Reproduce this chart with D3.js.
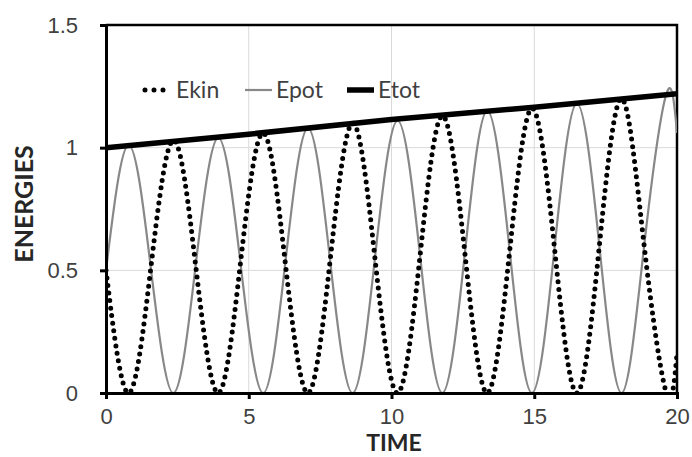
<!DOCTYPE html>
<html>
<head>
  <title>Energies vs Time</title>
  <script src="https://d3js.org/d3.v7.min.js"></script>
  <style>
    body { margin: 0; background: #fff; }
    svg { font-family: Lato, "Liberation Sans", sans-serif; }
    .grid line { stroke: #d9d9d9; stroke-width: 1; }
    .axis path, .axis line { stroke: #000; stroke-width: 3; }
    .axis text { fill: #404040; font-size: 22px; }
    .title { fill: #262626; font-weight: bold; }
  </style>
</head>
<body>
  <svg width="692" height="457"></svg>

  <script>
    // sample times (roughly every quarter swing) and energies
    const time = [0, 0.79, 1.57, 2.36, 3.14, 3.93, 4.71, 5.50, 6.28, 7.07, 7.85, 8.64, 9.42,
      10.21, 11.00, 11.78, 12.57, 13.35, 14.14, 14.92, 15.71, 16.49, 17.28, 18.06, 18.85, 19.63, 20];
    const ekin = [0.50, 0, 0.51, 1.03, 0.52, 0, 0.53, 1.06, 0.53, 0, 0.54, 1.10, 0.55,
      0, 0.56, 1.13, 0.57, 0, 0.58, 1.16, 0.59, 0, 0.60, 1.20, 0.60, 0, 0.16];
    const epot = [0.50, 1.01, 0.51, 0, 0.52, 1.04, 0.53, 0, 0.53, 1.08, 0.54, 0, 0.55,
      1.11, 0.56, 0, 0.57, 1.15, 0.58, 0, 0.59, 1.18, 0.60, 0, 0.60, 1.22, 1.06];
    const etotTime = [0, 5, 10, 15, 20];
    const etot = [1.00, 1.055, 1.115, 1.165, 1.22];

    const xTicks = [0, 5, 10, 15, 20];
    const yTicks = [0, 0.5, 1, 1.5];

    const svg = d3.select("svg");
    const margin = { top: 25, right: 15, bottom: 64, left: 106 };
    const width = 692, height = 457;

    const x = d3.scaleLinear().domain([0, 20]).range([margin.left, width - margin.right]);
    const y = d3.scaleLinear().domain([0, 1.5]).range([height - margin.bottom, margin.top]);

    svg.append("defs").append("clipPath").attr("id", "plot")
      .append("rect")
      .attr("x", x(0)).attr("y", y(1.5))
      .attr("width", x(20) - x(0)).attr("height", y(0) - y(1.5));

    // grid
    const grid = svg.append("g").attr("class", "grid");
    grid.selectAll(".gx").data(xTicks.slice(1, -1)).join("line")
      .attr("x1", d => x(d)).attr("x2", d => x(d))
      .attr("y1", y(0)).attr("y2", y(1.5));
    grid.selectAll(".gy").data(yTicks.slice(1, -1)).join("line")
      .attr("x1", x(0)).attr("x2", x(20))
      .attr("y1", d => y(d)).attr("y2", d => y(d));

    // plot border on top and right
    svg.append("path")
      .attr("d", `M${x(0)},${y(1.5)}H${x(20)}V${y(0)}`)
      .attr("fill", "none").attr("stroke", "#000").attr("stroke-width", 2.5);

    const line = d3.line().x(d => x(d[0])).y(d => y(d[1]));
    const smooth = d3.line().x(d => x(d[0])).y(d => y(d[1])).curve(d3.curveNatural);

    const plot = svg.append("g").attr("clip-path", "url(#plot)");

    plot.append("path")
      .datum(time.map((t, i) => [t, epot[i]]))
      .attr("d", smooth)
      .attr("fill", "none").attr("stroke", "#888").attr("stroke-width", 2.2);

    plot.append("path")
      .datum(time.map((t, i) => [t, ekin[i]]))
      .attr("d", smooth)
      .attr("fill", "none").attr("stroke", "#000").attr("stroke-width", 5)
      .attr("stroke-linecap", "round").attr("stroke-dasharray", "0 7.6");

    plot.append("path")
      .datum(etotTime.map((t, i) => [t, etot[i]]))
      .attr("d", line)
      .attr("fill", "none").attr("stroke", "#000").attr("stroke-width", 5.5);

    // axes
    svg.append("g")
      .attr("class", "axis")
      .attr("transform", `translate(0,${y(0)})`)
      .call(d3.axisBottom(x).tickValues(xTicks).tickSizeOuter(0).tickSize(6).tickPadding(9));

    svg.append("g")
      .attr("class", "axis")
      .attr("transform", `translate(${x(0)},0)`)
      .call(d3.axisLeft(y).tickValues(yTicks).tickFormat(d3.format("")).tickSizeOuter(0).tickSize(6).tickPadding(22));

    svg.append("text")
      .attr("class", "title")
      .attr("x", 394).attr("y", 451)
      .attr("text-anchor", "middle")
      .attr("font-size", 23)
      .text("TIME");

    svg.append("text")
      .attr("class", "title")
      .attr("transform", "translate(33,204) rotate(-90)")
      .attr("text-anchor", "middle")
      .attr("font-size", 25)
      .text("ENERGIES");

    // legend
    const legend = svg.append("g").attr("transform", "translate(0,90)");
    const items = [
      { name: "Ekin", x: 145, stroke: "#000", w: 5, dash: "0 9" },
      { name: "Epot", x: 245, stroke: "#888", w: 2.2, dash: null },
      { name: "Etot", x: 347, stroke: "#000", w: 5.5, dash: null }
    ];
    items.forEach(it => {
      legend.append("line")
        .attr("x1", it.x).attr("x2", it.x + 27)
        .attr("stroke", it.stroke).attr("stroke-width", it.w)
        .attr("stroke-linecap", it.dash ? "round" : "butt")
        .attr("stroke-dasharray", it.dash);
      legend.append("text")
        .attr("x", it.x + 31).attr("y", 8)
        .attr("fill", "#404040").attr("font-size", 23)
        .text(it.name);
    });
  </script>
</body>
</html>
